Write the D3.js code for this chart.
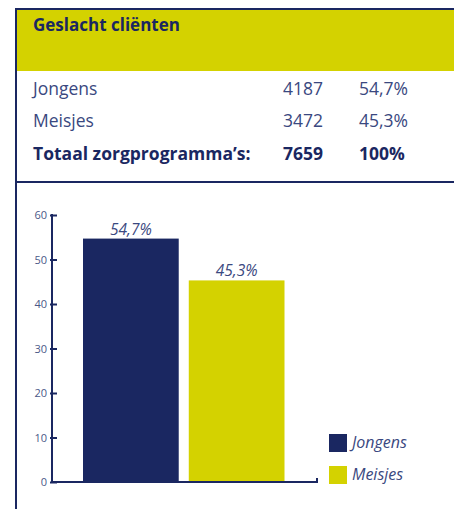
<!DOCTYPE html>
<html>
<head>
<meta charset="utf-8">
<script src="https://cdn.jsdelivr.net/npm/d3@7"></script>
<style>
  html, body { margin: 0; padding: 0; background: #fff; }
  svg { display: block; font-family: "Open Sans", "Noto Sans", sans-serif; }
</style>
</head>
<body>
<svg id="chart" width="454" height="509"></svg>
<script>
// Table data
var title = "Geslacht cliënten";
var rowLabels = ["Jongens", "Meisjes"];
var rowCounts = [4187, 3472];
var rowPercents = ["54,7%", "45,3%"];
var totalLabel = "Totaal zorgprogramma’s:";
var totalCount = 7659;
var totalPercent = "100%";

// Chart data
var categories = ["Jongens", "Meisjes"];
var values = [54.7, 45.3];
var valueLabels = ["54,7%", "45,3%"];
var yTicks = [0, 10, 20, 30, 40, 50, 60];

var navy = "#1a2761";
var yellow = "#d4d200";
var textColor = "#3a4880";

var svg = d3.select("#chart");

// The frame: yellow header band, borders and separator
svg.append("rect")
  .attr("x", 17).attr("y", 10)
  .attr("width", 437).attr("height", 61)
  .attr("fill", yellow);

svg.append("line")
  .attr("x1", 15).attr("x2", 454)
  .attr("y1", 9).attr("y2", 9)
  .attr("stroke", navy).attr("stroke-width", 2);

svg.append("line")
  .attr("x1", 16).attr("x2", 16)
  .attr("y1", 8).attr("y2", 509)
  .attr("stroke", navy).attr("stroke-width", 2);

svg.append("line")
  .attr("x1", 16).attr("x2", 454)
  .attr("y1", 182).attr("y2", 182)
  .attr("stroke", navy).attr("stroke-width", 2);

// Header title
svg.append("text")
  .attr("x", 33).attr("y", 31)
  .attr("fill", navy)
  .style("font-size", "17px")
  .style("font-weight", "bold")
  .text(title);

// Table rows
var rowY = [95, 127];
rowLabels.forEach(function(label, i) {
  var g = svg.append("g").attr("fill", textColor).style("font-size", "17.5px");
  g.append("text").attr("x", 33).attr("y", rowY[i]).text(label);
  g.append("text").attr("x", 323).attr("y", rowY[i])
    .attr("text-anchor", "end").text(rowCounts[i]);
  g.append("text").attr("x", 359).attr("y", rowY[i]).text(rowPercents[i]);
});

var tot = svg.append("g").attr("fill", navy)
  .style("font-size", "17.5px").style("font-weight", "bold");
tot.append("text").attr("x", 33).attr("y", 160).text(totalLabel);
tot.append("text").attr("x", 323).attr("y", 160)
  .attr("text-anchor", "end").text(totalCount);
tot.append("text").attr("x", 359).attr("y", 160).text(totalPercent);

// Scales
var y = d3.scaleLinear().domain([0, 60]).range([482, 215]);
var x = d3.scaleBand().domain(categories)
  .range([83, 284.5]).paddingInner(0.095).paddingOuter(0);
var color = d3.scaleOrdinal().domain(categories).range([navy, yellow]);

// Bars
svg.selectAll("rect.bar")
  .data(categories)
  .enter().append("rect")
  .attr("class", "bar")
  .attr("x", function(d) { return x(d); })
  .attr("width", x.bandwidth())
  .attr("y", function(d, i) { return y(values[i]); })
  .attr("height", function(d, i) { return y(0) - y(values[i]); })
  .attr("fill", function(d) { return color(d); });

// Value labels above bars
svg.selectAll("text.value")
  .data(categories)
  .enter().append("text")
  .attr("class", "value")
  .attr("x", function(d) { return x(d) + x.bandwidth() / 2; })
  .attr("y", function(d, i) { return y(values[i]) - 4; })
  .attr("text-anchor", "middle")
  .attr("fill", textColor)
  .style("font-size", "15.5px")
  .style("font-style", "italic")
  .text(function(d, i) { return valueLabels[i]; });

// Y axis
var yAxis = svg.append("g")
  .attr("transform", "translate(52,0)")
  .call(d3.axisRight(y).tickValues(yTicks).tickSize(5).tickFormat(""));
yAxis.select(".domain").remove();
yAxis.selectAll(".tick line").attr("stroke", navy).attr("stroke-width", 2)
  .attr("x1", -2);

svg.append("line")
  .attr("x1", 52).attr("x2", 52)
  .attr("y1", y(60) - 1).attr("y2", y(0) + 1)
  .attr("stroke", navy).attr("stroke-width", 2);

svg.selectAll("text.ytick")
  .data(yTicks)
  .enter().append("text")
  .attr("class", "ytick")
  .attr("x", 47)
  .attr("y", function(d) { return y(d) + 4; })
  .attr("text-anchor", "end")
  .attr("fill", "#4a5888")
  .style("font-size", "11px")
  .text(function(d) { return d; });

// X axis baseline with small end tick
svg.append("path")
  .attr("d", "M51," + y(0) + "H317V" + (y(0) - 4))
  .attr("fill", "none")
  .attr("stroke", navy).attr("stroke-width", 2);

// Legend
var legend = svg.selectAll("g.legend")
  .data(categories)
  .enter().append("g")
  .attr("class", "legend")
  .attr("transform", function(d, i) { return "translate(329," + (434 + i * 32) + ")"; });

legend.append("rect")
  .attr("width", 18).attr("height", 18)
  .attr("fill", function(d) { return color(d); });

legend.append("text")
  .attr("x", 23).attr("y", 14)
  .attr("fill", textColor)
  .style("font-size", "16px")
  .style("font-style", "italic")
  .text(function(d) { return d; });
</script>
</body>
</html>
